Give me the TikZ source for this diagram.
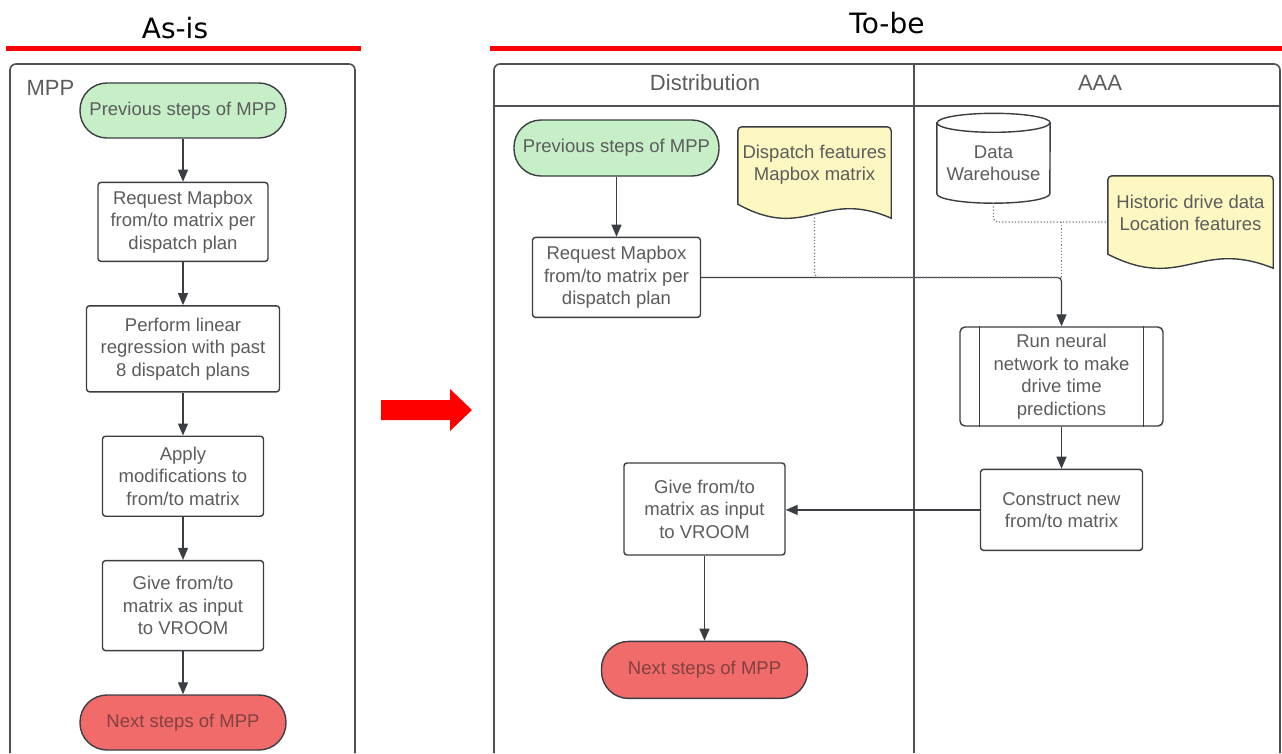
\documentclass[tikz,border=0pt]{standalone}
\usepackage{fontspec}
\setmainfont{Liberation Sans}
\newfontfamily\titlefont{DejaVu Sans}
\usetikzlibrary{arrows.meta,positioning,calc,backgrounds}
\definecolor{ink}{HTML}{3A3D42}
\definecolor{txt}{HTML}{5C5C5C}
\definecolor{startfill}{HTML}{C6EFC8}
\definecolor{endfill}{HTML}{F26B6B}
\definecolor{notefill}{HTML}{FDF8C2}
\definecolor{titlered}{HTML}{FF0000}

% document shape round a text node: name, depth of the wave below the node
\newcommand\docoutline[2]{%
  \draw[docline] let \p1=(#1.south west), \p2=(#1.north east), \n1={\x2-\x1} in
    (\x1,\y1-#2+14pt) [rounded corners=4pt]-- (\x1,\y2) -- (\x2,\y2) [sharp corners]-- (\x2,\y1-#2)
    .. controls (\x1+0.55*\n1,\y1-#2+30pt) and (\x1+0.45*\n1,\y1-#2-24pt) .. (\x1,\y1-#2+14pt) -- cycle;}

\begin{document}
\begin{tikzpicture}[x=1pt,y=1pt,node distance=43pt,
 every node/.style={font=\fontsize{18.5}{22.5}\selectfont,text=txt},
 box/.style={draw=ink,line width=1.4pt,rounded corners=3pt,fill=white,align=center,inner sep=2pt},
 terminal/.style={box,rounded corners=27pt,minimum width=206pt,minimum height=55pt},
 note/.style={align=center,minimum width=153pt,minimum height=75pt,inner sep=0pt},
 docline/.style={draw=ink,line width=1.4pt,fill=notefill},
 cylline/.style={draw=ink,line width=1.4pt,fill=white},
 arr/.style={-{Triangle[length=12pt,width=10pt]},line width=1.2pt,draw=ink},
 dotline/.style={dotted,line width=1.2pt,draw=ink!70},
 lane/.style={draw=ink!90,line width=1.6pt},
 headline/.style={font=\titlefont\fontsize{28}{32}\selectfont,text=black,anchor=base},
 lanetitle/.style={font=\fontsize{22}{26}\selectfont,text=txt,anchor=base}]
\useasboundingbox (0,0) rectangle (1282,-753);

% titles
\node[headline] (asis) at (175,-38) {As-is};
\node[headline] (tobe) at (887,-33) {To-be};
\fill[titlered] (6,-45.5) rectangle (361,-50.5);
\fill[titlered] (490,-45.5) rectangle (1282,-50.5);

% as-is
\draw[lane,rounded corners=6pt] (10,-753) -- (10,-64) -- (355,-64) -- (355,-753);
\node[lanetitle,anchor=base west] (mpp) at (23,-95) {MPP};
\node[terminal,fill=startfill] (prevA) at (183,-110.5) {Previous steps of MPP};
\node[box,minimum width=170pt,minimum height=79pt,below=of prevA] (requestA) {Request Mapbox\\from/to matrix per\\dispatch plan};
\node[box,minimum width=193pt,minimum height=86pt,below=of requestA] (regressA) {Perform linear\\regression with past\\8 dispatch plans};
\node[box,minimum width=161pt,minimum height=80pt,below=of regressA] (modifyA) {Apply\\modifications to\\from/to matrix};
\node[box,minimum width=161pt,minimum height=90pt,below=of modifyA] (vroomA) {Give from/to\\matrix as input\\to VROOM};
\node[terminal,fill=endfill,text=red!35!black!75,below=of vroomA] (nextA) {Next steps of MPP};
\foreach \a/\b in {prevA/requestA,requestA/regressA,regressA/modifyA,modifyA/vroomA,vroomA/nextA}
  \draw[arr] (\a) -- (\b);

\fill[titlered] (381,-400) -- (450,-400) -- (450,-389) -- (472,-410) -- (450,-431) -- (450,-420) -- (381,-420) -- cycle;

% to-be
\draw[lane,rounded corners=6pt] (494,-753) -- (494,-64) -- (1280,-64) -- (1280,-753);
\draw[lane] (494,-106) -- (1280,-106);
\draw[lane] (914,-64) -- (914,-753);
\node[lanetitle] (distT) at (705,-90) {Distribution};
\node[lanetitle] (aaaT) at (1100,-90) {AAA};

\node[terminal,fill=startfill,minimum width=205pt,minimum height=56pt] (prevB) at (616.5,-148) {Previous steps of MPP};
\node[box,minimum width=168pt,minimum height=80pt,below=60pt of prevB] (requestB) {Request Mapbox\\from/to matrix per\\dispatch plan};
\node[note] (dispatch) at (814.5,-164.5) {Dispatch features\\Mapbox matrix};
\node[minimum width=113pt,minimum height=80pt,inner sep=0pt,align=center] (dwh) at (993.5,-163) {Data\\Warehouse};
\node[note,minimum width=165pt,minimum height=74pt] (history) at (1190.5,-213) {Historic drive data\\Location features};
\node[box,minimum width=203pt,minimum height=99pt,rounded corners=5pt] (neural) at (1061.5,-376.5) {Run neural\\network to make\\drive time\\predictions};
\draw[ink,line width=1.4pt] ([xshift=20pt]neural.north west) -- ([xshift=20pt]neural.south west);
\draw[ink,line width=1.4pt] ([xshift=-20pt]neural.north east) -- ([xshift=-20pt]neural.south east);
\node[box,minimum width=162pt,minimum height=81pt,below=42pt of neural] (construct) {Construct new\\from/to matrix};
\node[box,minimum width=161pt,minimum height=92pt] (vroomB) at (704.5,-509) {Give from/to\\matrix as input\\to VROOM};
\node[terminal,fill=endfill,text=red!35!black!75,minimum height=57pt,below=85pt of vroomB] (nextB) {Next steps of MPP};

\begin{scope}[on background layer]
\docoutline{dispatch}{16pt}
\docoutline{history}{18pt}
\filldraw[cylline] (dwh.north west) -- ([yshift=9.5pt]dwh.south west)
  arc[start angle=180,end angle=360,x radius=56.5pt,y radius=9.5pt] -- (dwh.north east)
  arc[start angle=0,end angle=180,x radius=56.5pt,y radius=9.5pt] -- cycle;
\draw[cylline] (dwh.north west) arc[start angle=180,end angle=360,x radius=56.5pt,y radius=9.5pt];
\end{scope}

\coordinate (dispatchfoot) at ([yshift=-12pt]dispatch.south);
\coordinate (feed) at ([yshift=-9pt]history.west);
\draw[arr] (prevB) -- (requestB);
\draw[arr,rounded corners=4pt] (requestB.east) -| (neural.north);
\draw[dotline,rounded corners=4pt] (dispatchfoot) |- (requestB.east -| neural.north);
\draw[dotline,rounded corners=4pt] (dwh.south) |- (feed);
\draw[dotline] (neural.north |- feed) -- (neural.north |- requestB.east);
\draw[arr] (neural) -- (construct);
\draw[arr] (construct.west) -- (construct.west -| vroomB.east);
\draw[arr] (vroomB) -- (nextB);
\end{tikzpicture}
\end{document}
